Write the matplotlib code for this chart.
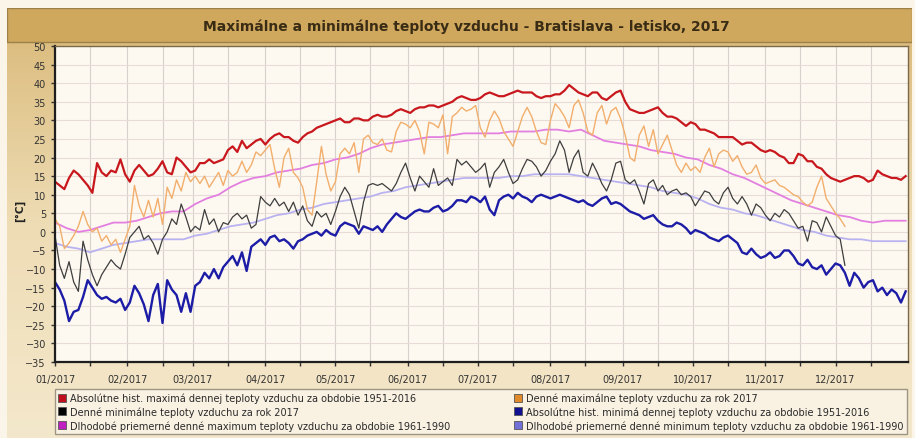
import numpy as np
import pandas as pd
import matplotlib
matplotlib.use("Agg")
import matplotlib.pyplot as plt
import matplotlib.dates as mdates
from matplotlib.colors import LinearSegmentedColormap
from matplotlib.lines import Line2D
from matplotlib.patches import Rectangle

# DATA (every 2nd day; long-term means every 5 days)

# absolute historical daily max 1951-2016
abs_max = [
    13.5, 12.5, 11.5, 14.5, 16.5, 15.5, 14, 12.5, 10.5, 18.5, 16, 15, 16.5, 16, 19.5, 15.5,
    13.5, 16.5, 18, 16.5, 15, 15.5, 17, 19, 16, 15.5, 20, 19, 17.5, 16, 16.5, 18.5,
    18.5, 19.5, 18.5, 19, 19.5, 22, 23, 21.5, 24.5, 22.5, 23.5, 24.5, 25, 23.5, 25, 26,
    26.5, 25.5, 25.5, 24.5, 24, 25.5, 26.5, 27, 28, 28.5, 29, 29.5, 30, 30.5, 29.5, 29.5,
    30.5, 30.5, 30, 30, 31, 31.5, 31, 31, 31.5, 32.5, 33, 32.5, 32, 33, 33.5, 33.5,
    34, 34, 33.5, 34, 34.5, 35, 36, 36.5, 36, 35.5, 35.5, 36, 37, 37.5, 37, 36.5,
    36.5, 37, 37.5, 38, 37.5, 37.5, 37.5, 36.5, 36, 36.5, 36.5, 37, 37, 38, 39.5, 38.5,
    37.5, 37, 36.5, 37.5, 37.5, 36, 35.5, 36.5, 37.5, 38, 35, 33, 32.5, 32, 32, 32.5,
    33, 33.5, 32, 31, 31, 30.5, 29.5, 28.5, 29.5, 29, 27.5, 27.5, 27, 26.5, 25.5, 25.5,
    25.5, 25.5, 24.5, 23.5, 24, 24, 23, 22, 21.5, 22, 21.5, 20.5, 20, 18.5, 18.5, 21,
    20.5, 19, 19, 17.5, 17, 15.5, 14.5, 14, 13.5, 14, 14.5, 15, 15, 14.5, 13.5, 14,
    16.5, 15.5, 15, 14.5, 14.5, 14, 15,
]

# absolute historical daily min 1951-2016
abs_min = [
    -13.5, -15.5, -18.5, -24, -21.5, -21, -17.5, -13, -15, -17, -18, -17.5, -18.5, -19, -18, -21,
    -19, -14.5, -16.5, -19.5, -24, -17, -14, -24.5, -13, -15.5, -17, -21.5, -16.5, -21.5, -14.5, -13.5,
    -11, -12.5, -10, -12.5, -9.5, -8, -6.5, -9, -5.5, -10.5, -4, -3, -2, -3.5, -1.5, -1,
    -2.5, -2, -3, -4.5, -2.5, -2, -1, -0.5, 0, -1, 0.5, -0.5, -1, 1.5, 2.5, 2,
    1.5, -0.5, 1.5, 1, 0.5, 1.5, 0, 2, 3.5, 5, 4, 3.5, 4.5, 5.5, 6, 5.5,
    5.5, 6.5, 7, 5.5, 6, 7, 8.5, 8.5, 8, 9.5, 9, 8, 9.5, 6, 4.5, 8.5,
    9.5, 10, 9, 10.5, 9.5, 9, 8, 9.5, 10, 9.5, 9, 9.5, 10, 9.5, 9, 8.5,
    8, 8.5, 7.5, 7, 8, 9, 9.5, 7.5, 8, 7.5, 6.5, 5.5, 5, 4.5, 3.5, 4,
    4.5, 3, 2, 1.5, 1.5, 2.5, 2, 1, -0.5, 0.5, 0, -0.5, -1.5, -2, -2.5, -1.5,
    -1, -2, -3, -5.5, -6, -4.5, -6, -7, -6.5, -5.5, -7, -6.5, -5, -5, -6.5, -8.5,
    -9, -7.5, -9.5, -10, -9, -11.5, -10, -8.5, -9, -11, -14.5, -11, -12.5, -15, -13.5, -13,
    -16, -15, -17, -15.5, -16.5, -19, -16,
]

# daily max 2017
max_2017 = [
    3.5, 1.5, -4.5, -3, -1, 1.5, 5.5, 2, 0, 1, -2.5, -1, -3.5, -2, -5.5, -2,
    1.5, 12.5, 7, 4, 8.5, 4, 9, 2, 12, 9, 14, 11, 16, 13.5, 15, 13,
    15, 12, 14, 16, 12.5, 16.5, 15, 16, 19, 16, 18, 21.5, 20.5, 22, 23.5, 17,
    12, 20, 22.5, 16, 14.5, 12, 6, 4.5, 13.5, 23, 15.5, 11, 13.5, 21, 22.5, 21,
    24, 16, 25, 26, 24, 23.5, 25, 22, 21.5, 27, 29.5, 29, 28, 30, 27, 21,
    29.5, 29, 28, 31.5, 21, 31, 32, 33.5, 32.5, 33, 34, 28, 25.5, 30, 32.5, 30.5,
    27, 25, 23, 27, 31, 33.5, 31, 27, 24, 23.5, 30, 34.5, 33, 31, 28, 34,
    35.5, 32, 27, 26, 32, 34, 29, 32.5, 33.5, 30.5, 26, 20, 19, 26, 28.5, 23,
    27.5, 21, 23.5, 26, 22, 18, 16, 18.5, 16.5, 17.5, 16, 20, 22.5, 17.5, 21, 22,
    21.5, 19, 20.5, 17.5, 15.5, 16, 18, 14.5, 13, 13.5, 14, 12.5, 12, 11, 10, 9.5,
    8, 7, 8, 12, 15, 9, 7, 5, 3.5, 1.5,
]

# daily min 2017
min_2017 = [
    -1, -9, -12.5, -8, -13.5, -16, -2.5, -7.5, -11.5, -14.5, -11.5, -9.5, -7.5, -9, -10, -6,
    -1.5, 0, 1.5, -2, -1, -3, -6, -2, 0, 3.5, 2, 7.5, 4, 0, 1.5, 0.5,
    6, 2, 3.5, 0, 2.5, 2, 4, 5, 3.5, 4.5, 1, 2, 9.5, 8, 7, 9,
    7, 8, 5.5, 8, 4.5, 7, 3, 1.5, 5.5, 4, 5, 2, 5.5, 9.5, 12, 10,
    5.5, 1, 8, 12.5, 13, 12.5, 13, 12, 11, 13, 16, 18.5, 14.5, 11, 15, 13.5,
    12, 17, 12.5, 13.5, 14.5, 12.5, 19.5, 18, 19, 17.5, 16, 17, 18.5, 12, 16, 17.5,
    19.5, 16, 13, 14, 17, 19.5, 19, 17.5, 15, 16.5, 19, 21, 24.5, 22, 16, 20,
    22, 16, 15, 18.5, 16, 13, 11, 14, 18.5, 19, 14, 13, 14, 11, 7.5, 13,
    14, 11, 12.5, 10, 11, 11.5, 10, 10.5, 9.5, 7, 9, 11, 10.5, 8.5, 7.5, 10.5,
    12, 9, 7.5, 9.5, 7.5, 4.5, 7.5, 6.5, 4.5, 3, 5, 4, 6, 5, 3, 1,
    1.5, -2.5, 3, 2.5, 0, 4, 1.5, -1, -2, -9,
]

# long-term mean daily max / min 1961-1990
mean_max = [
    2.5, 1, 0, 0.5, 1.5, 2.5, 2.5, 3, 4, 5, 5.5, 5.5, 7.5, 9, 10, 12,
    13.5, 14.5, 15, 16, 16.5, 17, 18, 18.5, 19.5, 20, 21, 22.5, 23.5, 24, 24.5, 25,
    25.5, 25.5, 26, 26.5, 26.5, 26.5, 26.5, 27, 27, 27, 27.5, 27.5, 27, 27.5, 26, 24.5,
    24, 23.5, 23, 22, 21.5, 21, 20, 19.5, 18, 17, 15.5, 14.5, 13, 11.5, 10, 8.5,
    7.5, 6.5, 5.5, 4.5, 4, 3, 2.5, 3, 3, 3,
]
mean_min = [
    -3, -4, -4.5, -5.5, -4.5, -3.5, -3, -2.5, -2, -2, -2, -2, -1, -0.5, 0.5, 1.5,
    2, 2.5, 3.5, 4.5, 5, 6, 6.5, 7.5, 8, 8.5, 9, 9.5, 10.5, 11, 12, 12.5,
    13, 13.5, 14, 14.5, 14.5, 14.5, 14.5, 15, 15, 15.5, 15.5, 15.5, 15.5, 15, 14.5, 14,
    13.5, 13, 12.5, 12, 11, 10.5, 10, 9, 7.5, 6.5, 6, 5, 4.5, 3.5, 2.5, 1.5,
    0.5, 0, -1, -1.5, -2, -2, -2.5, -2.5, -2.5, -2.5,
]

labels = [
    "Absolútne hist. maximá dennej teploty vzduchu za obdobie 1951-2016",
    "Denné minimálne teploty vzduchu za rok 2017",
    "Dlhodobé priemerné denné maximum teploty vzduchu za obdobie 1961-1990",
    "Denné maximálne teploty vzduchu za rok 2017",
    "Absolútne hist. minimá dennej teploty vzduchu za obdobie 1951-2016",
    "Dlhodobé priemerné denné minimum teploty vzduchu za obdobie 1961-1990",
]

title = "Maximálne a minimálne teploty vzduchu - Bratislava - letisko, 2017"

# dates for each series
d_hist = pd.date_range("2017-01-01", periods=len(abs_max), freq="2D")
d_2017 = pd.date_range("2017-01-01", periods=len(max_2017), freq="2D")
d_mean = pd.date_range("2017-01-01", periods=len(mean_max) - 1, freq="5D").append(
    pd.DatetimeIndex(["2017-12-31"]))
month_starts = pd.date_range("2017-01-01", periods=12, freq="MS")

W, H = 915, 439
fig = plt.figure(figsize=(W / 100, H / 100), dpi=100)
fig.patch.set_facecolor("#fbf4e8")

# golden panel behind everything
bg = fig.add_axes([7 / W, 0, 905 / W, 430 / H], zorder=-1)
bg.axis("off")
panel_cmap = LinearSegmentedColormap.from_list("panel", ["#d9b877", "#eedcb4", "#f4e8cc"])
bg.imshow(np.linspace(0, 1, 256).reshape(-1, 1), aspect="auto", cmap=panel_cmap,
          extent=[0, 1, 0, 1], origin="upper")
bg.add_patch(Rectangle((7 / W, 1 - 43 / H), 905 / W, 34 / H, transform=fig.transFigure,
                       facecolor="#cfa85e", edgecolor="#9c8048", lw=1))
fig.text(466 / W, 1 - 27 / H, title, ha="center", va="center", fontsize=10,
         fontweight="bold", color="#3a2c14")
fig.text(20 / W, 1 - 211 / H, "[°C]", rotation=90, ha="center", va="center",
         fontsize=7.5, fontweight="bold", color="#222222")

# main plot
ax = fig.add_axes([55 / W, 1 - 363 / H, 853 / W, 316 / H])
ax.set_facecolor("#fdf9f0")

ax.plot(d_hist, abs_max, color="#c8181e", lw=1.6)
ax.plot(d_mean, mean_max, color="#e37fe0", lw=1.3)
ax.plot(d_mean, mean_min, color="#b9b2f0", lw=1.3)
ax.plot(d_2017, max_2017, color="#f2ae6c", lw=1.0)
ax.plot(d_2017, min_2017, color="#3e3e3e", lw=0.9)
ax.plot(d_hist, abs_min, color="#1c1ca6", lw=1.7)

ax.set_xlim(pd.Timestamp("2017-01-01"), pd.Timestamp("2018-01-01"))
ax.set_ylim(-35, 50)
ax.set_yticks(np.arange(-35, 51, 5))
ax.set_xticks(month_starts)
ax.xaxis.set_major_formatter(mdates.DateFormatter("%m/%Y"))
ax.xaxis.set_minor_locator(mdates.MonthLocator(bymonthday=16))

ax.grid(axis="y", color="#e8dcd8", lw=0.8)
ax.grid(axis="x", which="both", color="#d8d0cc", lw=0.8)
ax.set_axisbelow(True)

ax.tick_params(axis="both", which="both", labelsize=7, colors="#333333", length=3, width=1)
ax.tick_params(axis="x", pad=6)
for s in ["left", "bottom"]:
    ax.spines[s].set_color("#1e1e1e")
    ax.spines[s].set_linewidth(1.6)
for s in ["top", "right"]:
    ax.spines[s].set_color("#7a6848")
    ax.spines[s].set_linewidth(1.0)

# legend: red, black, magenta | orange, blue, lavender
box_colors = ["#c01020", "#000000", "#c020c0", "#e08a2a", "#101090", "#7070d8"]
handles = [Line2D([], [], ls="none", marker="s", markersize=6, markerfacecolor=c,
                  markeredgecolor="#555555", markeredgewidth=0.6) for c in box_colors]
leg = fig.legend(handles, labels, ncol=2, loc="upper left",
                 bbox_to_anchor=(55 / W, 1 - 390 / H, 852 / W, 0), mode="expand",
                 fontsize=7, frameon=True, fancybox=False, borderaxespad=0,
                 handlelength=0.8, handletextpad=0.4, labelspacing=0.35,
                 borderpad=0.35, columnspacing=1.0)
leg.get_frame().set_facecolor("#fbf6ea")
leg.get_frame().set_edgecolor("#8a8070")
for t in leg.get_texts():
    t.set_color("#2a2a2a")

fig.savefig("out.png", dpi=100, facecolor=fig.get_facecolor())
